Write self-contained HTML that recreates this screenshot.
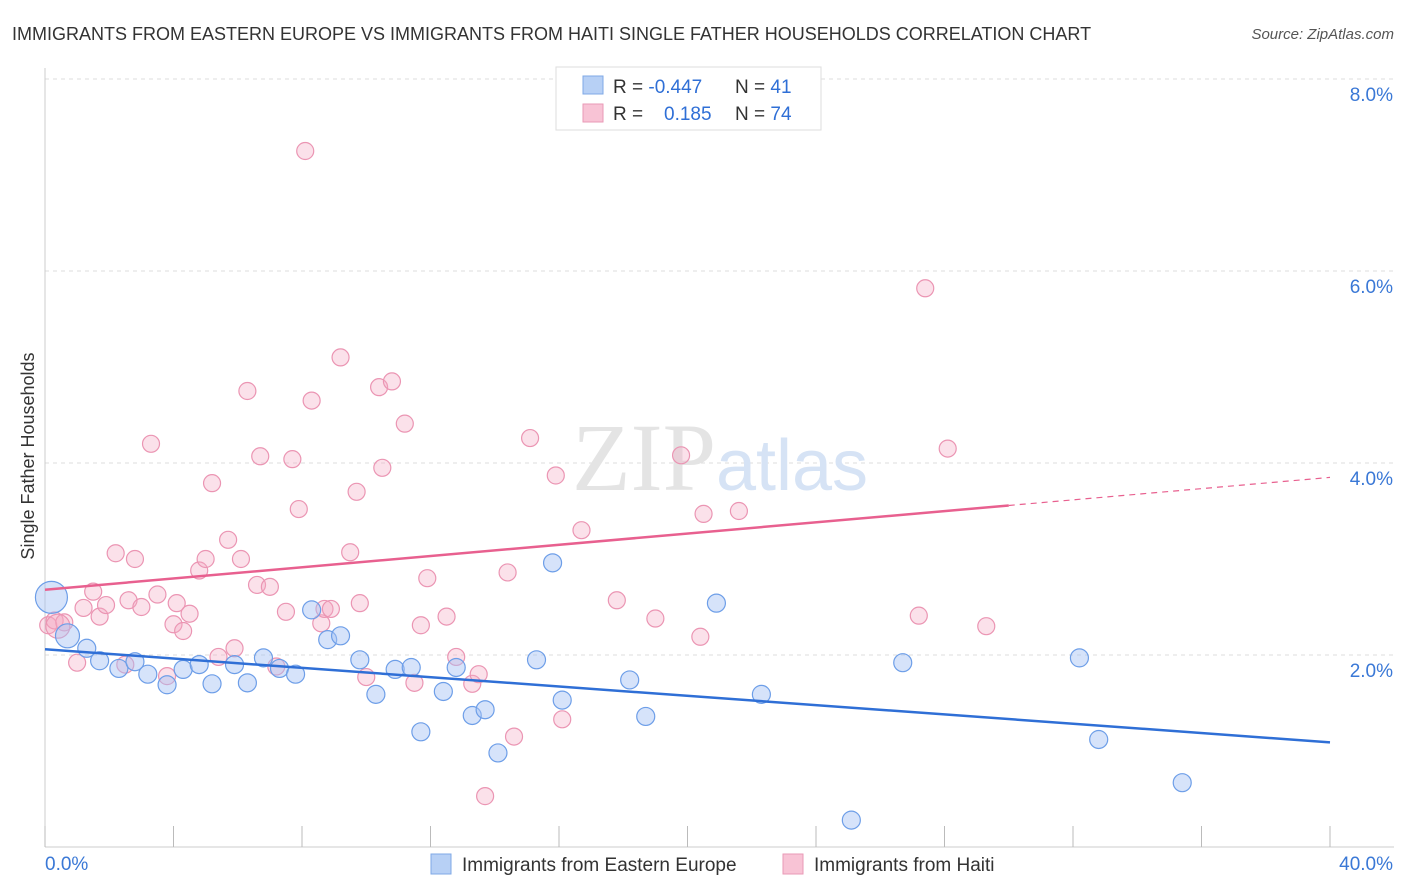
<!DOCTYPE html>
<html><head><meta charset="utf-8"><style>
body{margin:0;background:#fff;font-family:"Liberation Sans",sans-serif;}
svg{display:block}
</style></head><body>
<svg width="1406" height="892" viewBox="0 0 1406 892" xmlns="http://www.w3.org/2000/svg">
<text x="12" y="40" font-size="18" fill="#333">IMMIGRANTS FROM EASTERN EUROPE VS IMMIGRANTS FROM HAITI SINGLE FATHER HOUSEHOLDS CORRELATION CHART</text>
<text x="1394" y="39" font-size="15" fill="#555" font-style="italic" text-anchor="end">Source: ZipAtlas.com</text>
<g id="grid"></g>
<g id="axes"></g>
<text x="720" y="490" font-size="96" fill="#e4e4e4" text-anchor="middle" font-family="Liberation Serif">ZIP<tspan fill="#d6e3f5" font-family="Liberation Sans" font-size="72">atlas</tspan></text>
<g id="pts"></g>
<g id="lines"></g>
<text x="34" y="456" font-size="18" fill="#333" text-anchor="middle" transform="rotate(-90 34 456)">Single Father Households</text>
<g>
<rect x="556" y="67" width="265" height="63" fill="#fff" stroke="#ddd"/>
<rect x="583" y="76" width="20" height="18" fill="#b7d0f5" stroke="#7fa8e6"/>
<rect x="583" y="104" width="20" height="18" fill="#f8c3d5" stroke="#e99ab6"/>
<text x="613" y="93" font-size="19" fill="#333">R = <tspan fill="#2f6fd6">-0.447</tspan><tspan x="735">N = </tspan><tspan fill="#2f6fd6">41</tspan></text>
<text x="613" y="120" font-size="19" fill="#333">R = <tspan x="664" fill="#2f6fd6">0.185</tspan><tspan x="735">N = </tspan><tspan fill="#2f6fd6">74</tspan></text>
</g>
<g>
<rect x="431" y="854" width="20" height="20" fill="#b7d0f5" stroke="#7fa8e6"/>
<text x="462" y="871" font-size="19" fill="#333">Immigrants from Eastern Europe</text>
<rect x="783" y="854" width="20" height="20" fill="#f8c3d5" stroke="#e99ab6"/>
<text x="814" y="871" font-size="19" fill="#333">Immigrants from Haiti</text>
</g>
</svg>
<script>
const yTicks=[2,4,6,8];
const yTickLabels=["2.0%","4.0%","6.0%","8.0%"];
const xTicks=[0,4,8,12,16,20,24,28,32,36,40];
const blueX=[0.2,0.7,1.3,1.7,2.3,2.8,3.2,3.8,4.3,4.8,5.2,5.9,6.3,6.8,7.3,7.8,8.3,8.8,9.2,9.8,10.3,10.9,11.4,11.7,12.4,12.8,13.3,13.7,14.1,15.3,15.8,16.1,18.2,18.7,20.9,22.3,25.1,26.7,32.2,32.8,35.4];
const blueY=[2.6,2.2,2.07,1.94,1.86,1.93,1.8,1.69,1.85,1.9,1.7,1.9,1.71,1.97,1.86,1.8,2.47,2.16,2.2,1.95,1.59,1.85,1.87,1.2,1.62,1.87,1.37,1.43,0.98,1.95,2.96,1.53,1.74,1.36,2.54,1.59,0.28,1.92,1.97,1.12,0.67];
const blueR=[16,12,9,9,9,9,9,9,9,9,9,9,9,9,9,9,9,9,9,9,9,9,9,9,9,9,9,9,9,9,9,9,9,9,9,9,9,9,9,9,9];
const pinkX=[0.1,0.3,0.6,1.0,1.2,1.5,1.7,1.9,2.2,2.5,2.6,2.8,3.0,3.3,3.5,3.8,4.0,4.1,4.3,4.5,4.8,5.0,5.2,5.4,5.7,5.9,6.1,6.3,6.6,6.7,7.0,7.2,7.5,7.7,7.9,8.1,8.3,8.6,8.7,8.9,9.2,9.5,9.7,9.8,10.0,10.4,10.5,10.8,11.2,11.5,11.7,11.9,12.5,12.8,13.3,13.7,13.5,14.4,14.6,15.1,15.9,16.1,16.7,17.8,19.0,19.8,20.4,20.5,21.6,27.2,27.4,28.1,29.3,0.4];
const pinkY=[2.31,2.36,2.34,1.92,2.49,2.66,2.4,2.52,3.06,1.9,2.57,3.0,2.5,4.2,2.63,1.78,2.32,2.54,2.25,2.43,2.88,3.0,3.79,1.98,3.2,2.07,3.0,4.75,2.73,4.07,2.71,1.88,2.45,4.04,3.52,7.25,4.65,2.33,2.48,2.48,5.1,3.07,3.7,2.54,1.77,4.79,3.95,4.85,4.41,1.71,2.31,2.8,2.4,1.98,1.7,0.53,1.8,2.86,1.15,4.26,3.87,1.33,3.3,2.57,2.38,4.08,2.19,3.47,3.5,2.41,5.82,4.15,2.3,2.3];
const blueLine=[2.06,1.09];
const pinkLine=[2.68,3.85];
const pinkSolidEnd=30;
const NS="http://www.w3.org/2000/svg";
const xs=v=>45+v*32.125, ys=v=>847-v*96;
function mk(t,a,p){const e=document.createElementNS(NS,t);for(const k in a)e.setAttribute(k,a[k]);p.appendChild(e);return e;}
const grid=document.getElementById('grid'),axes=document.getElementById('axes'),pts=document.getElementById('pts'),lines=document.getElementById('lines');
yTicks.forEach((v,i)=>{
 const l=mk('line',{x1:45,x2:1394,y1:ys(v),y2:ys(v),stroke:'#ddd','stroke-dasharray':'4,4'},grid);
 
 
 const t=mk('text',{x:1393,y:ys(v)+22,'font-size':19,fill:'#3a78d6','text-anchor':'end'},axes);
 t.textContent=yTickLabels[i];
 
 
});
const ax=mk('line',{x1:45,x2:1394,y1:847,y2:847,stroke:'#ccc'},axes);


const ay=mk('line',{x1:45,x2:45,y1:68,y2:847,stroke:'#ccc'},axes);


xTicks.forEach(v=>{
 const t=mk('line',{x1:xs(v),x2:xs(v),y1:826,y2:847,stroke:'#bbb'},axes);
 
 
});
const x0=mk('text',{x:45,y:870,'font-size':19,fill:'#3a78d6'},axes);x0.textContent='0.0%';


const x1=mk('text',{x:1393,y:870,'font-size':19,fill:'#3a78d6','text-anchor':'end'},axes);x1.textContent='40.0%';


pinkX.forEach((v,i)=>{
 const c=mk('circle',{cx:xs(v),cy:ys(pinkY[i]),r:i==73?12:8.5,fill:'rgba(244,170,196,0.35)',stroke:'#eb95b3','stroke-width':1.2},pts);
 
 
});
blueX.forEach((v,i)=>{
 const c=mk('circle',{cx:xs(v),cy:ys(blueY[i]),r:blueR[i],fill:'rgba(164,194,244,0.45)',stroke:'#6d9ee8','stroke-width':1.2},pts);
 
 
});
const bl=mk('line',{x1:xs(0),y1:ys(blueLine[0]),x2:xs(40),y2:ys(blueLine[1]),stroke:'#2f6fd6','stroke-width':2.5},lines);


const pm=pinkLine[0]+(pinkLine[1]-pinkLine[0])*pinkSolidEnd/40;
const pl=mk('line',{x1:xs(0),y1:ys(pinkLine[0]),x2:xs(pinkSolidEnd),y2:ys(pm),stroke:'#e8608f','stroke-width':2.5},lines);


const pd=mk('line',{x1:xs(pinkSolidEnd),y1:ys(pm),x2:xs(40),y2:ys(pinkLine[1]),stroke:'#e8608f','stroke-width':1.2,'stroke-dasharray':'6,5'},lines);


</script>
</body></html>
